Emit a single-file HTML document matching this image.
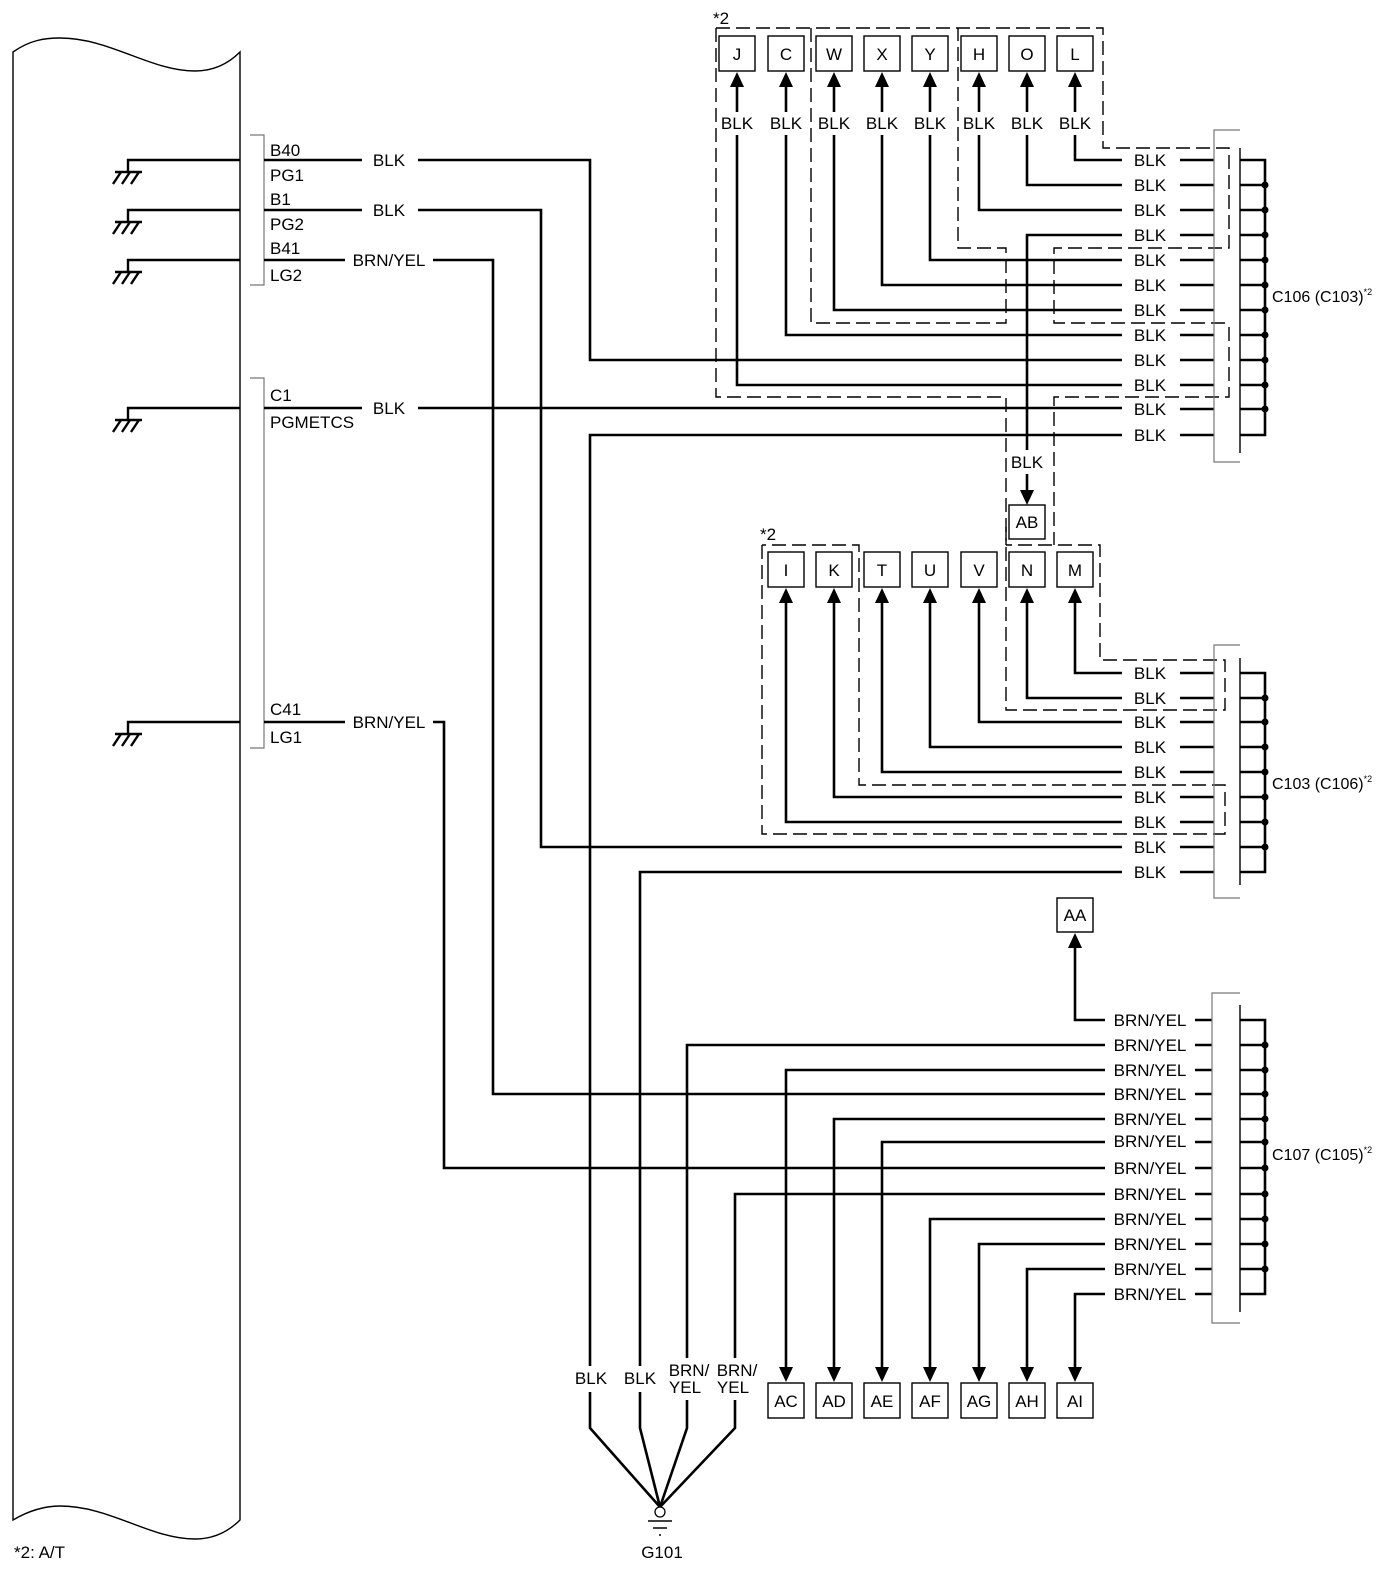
<!DOCTYPE html>
<html><head><meta charset="utf-8"><style>
html,body{margin:0;padding:0;background:#fff;}
svg{display:block;}
text{font-family:"Liberation Sans",sans-serif;font-size:17px;fill:#000;}
.w{fill:none;stroke:#000;stroke-width:2.6;}
.t{fill:none;stroke:#000;stroke-width:1.4;}
.g{fill:none;stroke:#777;stroke-width:1.2;}
.d{fill:none;stroke:#000;stroke-width:1.4;stroke-dasharray:14 6;}
.b{fill:#fff;stroke:#000;stroke-width:1.4;}
.c{text-anchor:middle;}
</style></head><body>
<svg width="1398" height="1574" viewBox="0 0 1398 1574" xmlns="http://www.w3.org/2000/svg">
<path class="t" d="M13,52 C30,40 45,38 60,38 C110,38 150,71 195,71 C215,71 230,62 240,52 V1520 C230,1530 215,1539 195,1539 C150,1539 110,1506 60,1506 C45,1506 30,1510 13,1520 Z"/>
<path class="g" d="M250,135 H264 V285 H250"/>
<path class="g" d="M250,378 H264 V748 H250"/>
<g>
<path d="M240,160 H128 V172 M115,172 H142 M121,172 L113,184 M130,172 L122,184 M139,172 L131,184" class="w" style="stroke-width:2.4"/>
<path d="M240,210 H128 V222 M115,222 H142 M121,222 L113,234 M130,222 L122,234 M139,222 L131,234" class="w" style="stroke-width:2.4"/>
<path d="M240,260 H128 V272 M115,272 H142 M121,272 L113,284 M130,272 L122,284 M139,272 L131,284" class="w" style="stroke-width:2.4"/>
<path d="M240,408 H128 V420 M115,420 H142 M121,420 L113,432 M130,420 L122,432 M139,420 L131,432" class="w" style="stroke-width:2.4"/>
<path d="M240,722 H128 V734 M115,734 H142 M121,734 L113,746 M130,734 L122,746 M139,734 L131,746" class="w" style="stroke-width:2.4"/>
</g>
<text x="270" y="156">B40</text><text x="270" y="181">PG1</text>
<text x="270" y="205">B1</text><text x="270" y="230">PG2</text>
<text x="270" y="254">B41</text><text x="270" y="281">LG2</text>
<text x="270" y="401">C1</text><text x="270" y="428">PGMETCS</text>
<text x="270" y="715">C41</text><text x="270" y="743">LG1</text>
<text class="c" x="389" y="166">BLK</text>
<text class="c" x="389" y="216">BLK</text>
<text class="c" x="389" y="266">BRN/YEL</text>
<text class="c" x="389" y="414">BLK</text>
<text class="c" x="389" y="728">BRN/YEL</text>

<path class="d" d="M716,28 H1103 V148 H1229 V248 H1054 V323 H1229"/>
<path class="d" d="M716,28 V397 H1006 V545"/>
<path class="d" d="M811,28 V323 H1006 V248 H958 V28"/>
<path class="d" d="M1229,327 V397 H1054 V545"/>
<path class="d" d="M1006,527 V710 H1225 V660 H1100 V545 H1006"/>
<path class="d" d="M762,545 V834 H1225 V785 H859 V545 H762"/>

<g class="w">
<path d="M264,160 H362 M418,160 H590 V360 H1122"/>
<path d="M264,210 H362 M418,210 H541 V847 H1122"/>
<path d="M264,260 H345 M433,260 H493 V1094 H1105"/>
<path d="M264,408 H362 M418,408 H1122"/>
<path d="M264,722 H345 M433,722 H444 V1168 H1105"/>
<path d="M1075,86 V112 M1075,135 V160 H1122"/>
<path d="M1027,86 V112 M1027,135 V185 H1122"/>
<path d="M979,86 V112 M979,135 V210 H1122"/>
<path d="M1122,235 H1027 V450 M1027,474 V492"/>
<path d="M930,86 V112 M930,135 V260 H1122"/>
<path d="M882,86 V112 M882,135 V285 H1122"/>
<path d="M834,86 V112 M834,135 V310 H1122"/>
<path d="M786,86 V112 M786,135 V335 H1122"/>
<path d="M737,86 V112 M737,135 V385 H1122"/>
<path d="M1122,435 H590 V1366 M590,1392 V1428 L660,1507"/>
<path d="M1075,600 V673 H1122"/>
<path d="M1027,600 V698 H1122"/>
<path d="M979,600 V722 H1122"/>
<path d="M930,600 V747 H1122"/>
<path d="M882,600 V772 H1122"/>
<path d="M834,600 V797 H1122"/>
<path d="M786,600 V822 H1122"/>
<path d="M1122,872 H640 V1366 M640,1392 V1428 L660,1507"/>
<path d="M1105,1020 H1075 V945"/>
<path d="M1105,1045 H687 V1358 M687,1400 V1428 L660,1507"/>
<path d="M1105,1070 H786 V1370"/>
<path d="M1105,1119 H834 V1370"/>
<path d="M1105,1142 H882 V1370"/>
<path d="M1105,1194 H735 V1358 M735,1400 V1428 L660,1507"/>
<path d="M1105,1219 H930 V1370"/>
<path d="M1105,1244 H979 V1370"/>
<path d="M1105,1269 H1027 V1370"/>
<path d="M1105,1294 H1075 V1370"/>
</g>

<g fill="#000">
<path d="M737,72 l-7,15 h14z M786,72 l-7,15 h14z M834,72 l-7,15 h14z M882,72 l-7,15 h14z M930,72 l-7,15 h14z M979,72 l-7,15 h14z M1027,72 l-7,15 h14z M1075,72 l-7,15 h14z"/>
<path d="M786,588 l-7,15 h14z M834,588 l-7,15 h14z M882,588 l-7,15 h14z M930,588 l-7,15 h14z M979,588 l-7,15 h14z M1027,588 l-7,15 h14z M1075,588 l-7,15 h14z"/>
<path d="M1075,933 l-7,15 h14z"/>
<path d="M1027,505 l-7,-15 h14z"/>
<path d="M786,1382 l-7,-15 h14z M834,1382 l-7,-15 h14z M882,1382 l-7,-15 h14z M930,1382 l-7,-15 h14z M979,1382 l-7,-15 h14z M1027,1382 l-7,-15 h14z M1075,1382 l-7,-15 h14z"/>
</g>

<g class="b">
<rect x="719" y="36" width="36" height="35"/><rect x="768" y="36" width="36" height="35"/>
<rect x="816" y="36" width="36" height="35"/><rect x="864" y="36" width="36" height="35"/>
<rect x="912" y="36" width="36" height="35"/><rect x="961" y="36" width="36" height="35"/>
<rect x="1009" y="36" width="36" height="35"/><rect x="1057" y="36" width="36" height="35"/>
<rect x="1009" y="505" width="36" height="34"/>
<rect x="768" y="552" width="36" height="35"/><rect x="816" y="552" width="36" height="35"/>
<rect x="864" y="552" width="36" height="35"/><rect x="912" y="552" width="36" height="35"/>
<rect x="961" y="552" width="36" height="35"/><rect x="1009" y="552" width="36" height="35"/>
<rect x="1057" y="552" width="36" height="35"/>
<rect x="1057" y="898" width="36" height="34"/>
<rect x="768" y="1383" width="36" height="35"/><rect x="816" y="1383" width="36" height="35"/>
<rect x="864" y="1383" width="36" height="35"/><rect x="912" y="1383" width="36" height="35"/>
<rect x="961" y="1383" width="36" height="35"/><rect x="1009" y="1383" width="36" height="35"/>
<rect x="1057" y="1383" width="36" height="35"/>
</g>
<g>
<text class="c" x="737" y="60">J</text><text class="c" x="786" y="60">C</text><text class="c" x="834" y="60">W</text><text class="c" x="882" y="60">X</text><text class="c" x="930" y="60">Y</text><text class="c" x="979" y="60">H</text><text class="c" x="1027" y="60">O</text><text class="c" x="1075" y="60">L</text>
<text class="c" x="737" y="129">BLK</text><text class="c" x="786" y="129">BLK</text><text class="c" x="834" y="129">BLK</text><text class="c" x="882" y="129">BLK</text><text class="c" x="930" y="129">BLK</text><text class="c" x="979" y="129">BLK</text><text class="c" x="1027" y="129">BLK</text><text class="c" x="1075" y="129">BLK</text>
<text class="c" x="1027" y="468">BLK</text>
<text class="c" x="1027" y="528">AB</text>
<text class="c" x="786" y="576">I</text><text class="c" x="834" y="576">K</text><text class="c" x="882" y="576">T</text><text class="c" x="930" y="576">U</text><text class="c" x="979" y="576">V</text><text class="c" x="1027" y="576">N</text><text class="c" x="1075" y="576">M</text>
<text class="c" x="1075" y="921">AA</text>
<text class="c" x="786" y="1407">AC</text><text class="c" x="834" y="1407">AD</text><text class="c" x="882" y="1407">AE</text><text class="c" x="930" y="1407">AF</text><text class="c" x="979" y="1407">AG</text><text class="c" x="1027" y="1407">AH</text><text class="c" x="1075" y="1407">AI</text>
<text class="c" x="591" y="1384">BLK</text><text class="c" x="640" y="1384">BLK</text>
<text class="c" x="689" y="1376">BRN/</text><text class="c" x="685" y="1393">YEL</text>
<text class="c" x="737" y="1376">BRN/</text><text class="c" x="733" y="1393">YEL</text>
</g>
<text x="713" y="24">*2</text>
<text x="760" y="540">*2</text>

<g>
<text class="c" x="1150" y="166">BLK</text><text class="c" x="1150" y="191">BLK</text><text class="c" x="1150" y="216">BLK</text><text class="c" x="1150" y="241">BLK</text><text class="c" x="1150" y="266">BLK</text><text class="c" x="1150" y="291">BLK</text><text class="c" x="1150" y="316">BLK</text><text class="c" x="1150" y="341">BLK</text><text class="c" x="1150" y="366">BLK</text><text class="c" x="1150" y="391">BLK</text><text class="c" x="1150" y="415">BLK</text><text class="c" x="1150" y="441">BLK</text>
</g>
<path class="w" d="M1180,160 H1214 M1180,185 H1214 M1180,210 H1214 M1180,235 H1214 M1180,260 H1214 M1180,285 H1214 M1180,310 H1214 M1180,335 H1214 M1180,360 H1214 M1180,385 H1214 M1180,409 H1214 M1180,435 H1214"/>
<path class="g" d="M1240,130 H1214 V462 H1240"/>
<path class="t" d="M1240,148 V453"/>
<path class="w" d="M1240,160 H1265 V435 H1240 M1240,185 H1265 M1240,210 H1265 M1240,235 H1265 M1240,260 H1265 M1240,285 H1265 M1240,310 H1265 M1240,335 H1265 M1240,360 H1265 M1240,385 H1265 M1240,409 H1265"/>
<g fill="#000"><circle cx="1265" cy="185" r="3.5"/><circle cx="1265" cy="210" r="3.5"/><circle cx="1265" cy="235" r="3.5"/><circle cx="1265" cy="260" r="3.5"/><circle cx="1265" cy="285" r="3.5"/><circle cx="1265" cy="310" r="3.5"/><circle cx="1265" cy="335" r="3.5"/><circle cx="1265" cy="360" r="3.5"/><circle cx="1265" cy="385" r="3.5"/><circle cx="1265" cy="409" r="3.5"/></g>
<text x="1272" y="302" style="font-size:16px">C106 (C103)<tspan dy="-7" style="font-size:9px">*2</tspan></text>

<g>
<text class="c" x="1150" y="679">BLK</text><text class="c" x="1150" y="704">BLK</text><text class="c" x="1150" y="728">BLK</text><text class="c" x="1150" y="753">BLK</text><text class="c" x="1150" y="778">BLK</text><text class="c" x="1150" y="803">BLK</text><text class="c" x="1150" y="828">BLK</text><text class="c" x="1150" y="853">BLK</text><text class="c" x="1150" y="878">BLK</text>
</g>
<path class="w" d="M1180,673 H1214 M1180,698 H1214 M1180,722 H1214 M1180,747 H1214 M1180,772 H1214 M1180,797 H1214 M1180,822 H1214 M1180,847 H1214 M1180,872 H1214"/>
<path class="g" d="M1240,645 H1214 V898 H1240"/>
<path class="t" d="M1240,658 V885"/>
<path class="w" d="M1240,673 H1265 V872 H1240 M1240,698 H1265 M1240,722 H1265 M1240,747 H1265 M1240,772 H1265 M1240,797 H1265 M1240,822 H1265 M1240,847 H1265"/>
<g fill="#000"><circle cx="1265" cy="698" r="3.5"/><circle cx="1265" cy="722" r="3.5"/><circle cx="1265" cy="747" r="3.5"/><circle cx="1265" cy="772" r="3.5"/><circle cx="1265" cy="797" r="3.5"/><circle cx="1265" cy="822" r="3.5"/><circle cx="1265" cy="847" r="3.5"/></g>
<text x="1272" y="789" style="font-size:16px">C103 (C106)<tspan dy="-7" style="font-size:9px">*2</tspan></text>

<g>
<text class="c" x="1150" y="1026">BRN/YEL</text><text class="c" x="1150" y="1051">BRN/YEL</text><text class="c" x="1150" y="1076">BRN/YEL</text><text class="c" x="1150" y="1100">BRN/YEL</text><text class="c" x="1150" y="1125">BRN/YEL</text><text class="c" x="1150" y="1147">BRN/YEL</text><text class="c" x="1150" y="1174">BRN/YEL</text><text class="c" x="1150" y="1200">BRN/YEL</text><text class="c" x="1150" y="1225">BRN/YEL</text><text class="c" x="1150" y="1250">BRN/YEL</text><text class="c" x="1150" y="1275">BRN/YEL</text><text class="c" x="1150" y="1300">BRN/YEL</text>
</g>
<path class="w" d="M1195,1020 H1212 M1195,1045 H1212 M1195,1070 H1212 M1195,1094 H1212 M1195,1119 H1212 M1195,1142 H1212 M1195,1168 H1212 M1195,1194 H1212 M1195,1219 H1212 M1195,1244 H1212 M1195,1269 H1212 M1195,1294 H1212"/>
<path class="g" d="M1240,993 H1212 V1323 H1240"/>
<path class="t" d="M1240,1005 V1312"/>
<path class="w" d="M1240,1020 H1265 V1294 H1240 M1240,1045 H1265 M1240,1070 H1265 M1240,1094 H1265 M1240,1119 H1265 M1240,1142 H1265 M1240,1168 H1265 M1240,1194 H1265 M1240,1219 H1265 M1240,1244 H1265 M1240,1269 H1265"/>
<g fill="#000"><circle cx="1265" cy="1045" r="3.5"/><circle cx="1265" cy="1070" r="3.5"/><circle cx="1265" cy="1094" r="3.5"/><circle cx="1265" cy="1119" r="3.5"/><circle cx="1265" cy="1142" r="3.5"/><circle cx="1265" cy="1168" r="3.5"/><circle cx="1265" cy="1194" r="3.5"/><circle cx="1265" cy="1219" r="3.5"/><circle cx="1265" cy="1244" r="3.5"/><circle cx="1265" cy="1269" r="3.5"/></g>
<text x="1272" y="1160" style="font-size:16px">C107 (C105)<tspan dy="-7" style="font-size:9px">*2</tspan></text>

<circle cx="660" cy="1512" r="5" fill="#fff" stroke="#000" stroke-width="1.3"/>
<path class="t" d="M648,1521 H672 M653,1528 H667 M659,1535 H661"/>
<text class="c" x="662" y="1558">G101</text>
<text x="14" y="1558">*2:  A/T</text>
</svg>
</body></html>
